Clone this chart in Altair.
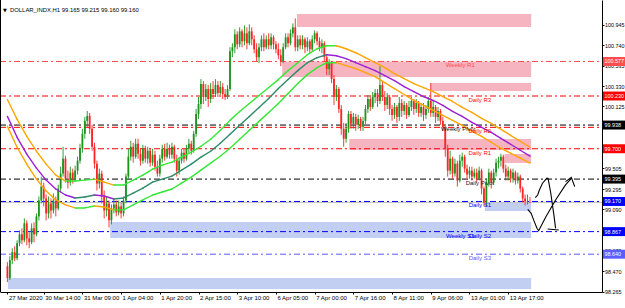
import altair as alt
import pandas as pd

# ---------------- data ----------------
opens = [98.52, 98.40, 98.58, 98.66, 98.60, 98.75, 98.84, 98.78, 98.95, 98.80,
         98.76, 98.90, 98.84, 99.02, 99.18, 99.32, 99.20, 99.05, 99.15, 99.08,
         99.18, 99.10, 99.30, 99.45, 99.60, 99.40, 99.36, 99.46, 99.40, 99.48,
         99.58, 99.70, 99.85, 99.98, 100.03, 99.90, 99.72, 99.55, 99.35, 99.45,
         99.22, 99.08, 99.15, 98.98, 99.10, 99.14, 99.06, 99.12, 99.05, 99.18,
         99.42, 99.62, 99.72, 99.62, 99.75, 99.65, 99.58, 99.70, 99.60, 99.68,
         99.56, 99.64, 99.52, 99.45, 99.60, 99.70, 99.62, 99.70, 99.64, 99.72,
         99.60, 99.48, 99.58, 99.66, 99.60, 99.70, 99.75, 99.68, 99.85, 100.05,
         100.15, 100.35, 100.22, 100.30, 100.20, 100.30, 100.25, 100.34, 100.26, 100.32,
         100.25, 100.22, 100.30, 100.68, 100.72, 100.85, 100.75, 100.88, 100.78, 100.86,
         100.76, 100.88, 100.80, 100.70, 100.62, 100.72, 100.80, 100.72, 100.80, 100.74,
         100.82, 100.75, 100.70, 100.64, 100.58, 100.72, 100.82, 100.76, 100.86, 100.92,
         100.72, 100.80, 100.74, 100.80, 100.72, 100.78, 100.70, 100.80, 100.86, 100.78,
         100.72, 100.76, 100.62, 100.50, 100.56, 100.40, 100.22, 100.30, 100.10, 99.90,
         99.80, 99.90, 100.05, 99.95, 100.02, 99.94, 100.00, 99.92, 99.98, 100.10,
         100.20, 100.12, 100.22, 100.26, 100.18, 100.34, 100.22, 100.14, 100.22, 100.10,
         100.04, 100.12, 100.02, 100.16, 100.08, 100.14, 100.04, 100.12, 100.18, 100.10,
         100.16, 100.06, 100.12, 100.04, 100.10, 100.18, 100.06, 100.12, 100.02, 100.08,
         99.98, 99.92, 99.70, 99.48, 99.60, 99.45, 99.55, 99.38, 99.58, 99.62,
         99.50, 99.44, 99.48, 99.42, 99.46, 99.40, 99.48, 99.30, 99.16, 99.36,
         99.46, 99.36, 99.46, 99.56, 99.58, 99.62, 99.50, 99.42, 99.48, 99.40,
         99.46, 99.38, 99.42, 99.30, 99.20, 99.17, 99.165]
closes = [98.40, 98.58, 98.66, 98.60, 98.75, 98.84, 98.78, 98.95, 98.80, 98.76,
          98.90, 98.84, 99.02, 99.18, 99.32, 99.20, 99.05, 99.15, 99.08, 99.18,
          99.10, 99.30, 99.45, 99.60, 99.40, 99.36, 99.46, 99.40, 99.48, 99.58,
          99.70, 99.85, 99.98, 100.03, 99.90, 99.72, 99.55, 99.35, 99.45, 99.22,
          99.08, 99.15, 98.98, 99.10, 99.14, 99.06, 99.12, 99.05, 99.18, 99.42,
          99.62, 99.72, 99.62, 99.75, 99.65, 99.58, 99.70, 99.60, 99.68, 99.56,
          99.64, 99.52, 99.45, 99.60, 99.70, 99.62, 99.70, 99.64, 99.72, 99.60,
          99.48, 99.58, 99.66, 99.60, 99.70, 99.75, 99.68, 99.85, 100.05, 100.15,
          100.35, 100.22, 100.30, 100.20, 100.30, 100.25, 100.34, 100.26, 100.32, 100.25,
          100.22, 100.30, 100.68, 100.72, 100.85, 100.75, 100.88, 100.78, 100.86, 100.76,
          100.88, 100.80, 100.70, 100.62, 100.72, 100.80, 100.72, 100.80, 100.74, 100.82,
          100.75, 100.70, 100.64, 100.58, 100.72, 100.82, 100.76, 100.86, 100.92, 100.72,
          100.80, 100.74, 100.80, 100.72, 100.78, 100.70, 100.80, 100.86, 100.78, 100.72,
          100.76, 100.62, 100.50, 100.56, 100.40, 100.22, 100.30, 100.10, 99.90, 99.80,
          99.90, 100.05, 99.95, 100.02, 99.94, 100.00, 99.92, 99.98, 100.10, 100.20,
          100.12, 100.22, 100.26, 100.18, 100.34, 100.22, 100.14, 100.22, 100.10, 100.04,
          100.12, 100.02, 100.16, 100.08, 100.14, 100.04, 100.12, 100.18, 100.10, 100.16,
          100.06, 100.12, 100.04, 100.10, 100.18, 100.06, 100.12, 100.02, 100.08, 99.98,
          99.92, 99.70, 99.48, 99.60, 99.45, 99.55, 99.38, 99.58, 99.62, 99.50,
          99.44, 99.48, 99.42, 99.46, 99.40, 99.48, 99.30, 99.16, 99.36, 99.46,
          99.36, 99.46, 99.56, 99.58, 99.62, 99.50, 99.42, 99.48, 99.40, 99.46,
          99.38, 99.42, 99.30, 99.20, 99.17, 99.165, 99.16]
highs = [98.56, 98.62, 98.70, 98.72, 98.78, 98.88, 98.90, 99.00, 98.98, 98.86,
         98.95, 98.96, 99.05, 99.22, 99.42, 99.36, 99.24, 99.22, 99.20, 99.25,
         99.22, 99.34, 99.52, 99.72, 99.63, 99.48, 99.52, 99.50, 99.53, 99.62,
         99.75, 99.90, 100.02, 100.08, 100.06, 99.94, 99.76, 99.58, 99.50, 99.48,
         99.28, 99.22, 99.18, 99.14, 99.20, 99.18, 99.18, 99.16, 99.22, 99.45,
         99.70, 99.78, 99.76, 99.80, 99.80, 99.70, 99.74, 99.73, 99.72, 99.70,
         99.70, 99.68, 99.58, 99.64, 99.74, 99.75, 99.76, 99.74, 99.76, 99.74,
         99.64, 99.62, 99.70, 99.70, 99.74, 99.80, 99.78, 99.88, 100.10, 100.22,
         100.40, 100.38, 100.35, 100.34, 100.36, 100.38, 100.40, 100.38, 100.38, 100.36,
         100.30, 100.34, 100.72, 100.76, 100.90, 100.88, 100.92, 100.90, 100.94, 100.92,
         100.95, 100.92, 100.84, 100.76, 100.76, 100.84, 100.86, 100.84, 100.86, 100.86,
         100.84, 100.78, 100.76, 100.70, 100.76, 100.86, 100.86, 100.90, 100.96, 101.01,
         100.84, 100.84, 100.84, 100.82, 100.82, 100.80, 100.84, 100.89, 100.88, 100.82,
         100.80, 100.78, 100.64, 100.60, 100.58, 100.44, 100.34, 100.32, 100.14, 99.96,
         99.96, 100.08, 100.08, 100.06, 100.05, 100.04, 100.02, 100.02, 100.14, 100.24,
         100.24, 100.27, 100.30, 100.30, 100.53, 100.38, 100.28, 100.26, 100.24, 100.14,
         100.16, 100.14, 100.22, 100.20, 100.18, 100.16, 100.18, 100.22, 100.20, 100.20,
         100.18, 100.16, 100.16, 100.14, 100.22, 100.36, 100.18, 100.14, 100.12, 100.10,
         100.02, 99.95, 99.74, 99.68, 99.62, 99.60, 99.58, 99.64, 99.66, 99.64,
         99.54, 99.52, 99.52, 99.50, 99.50, 99.52, 99.50, 99.32, 99.40, 99.50,
         99.48, 99.50, 99.60, 99.62, 99.65, 99.64, 99.54, 99.52, 99.50, 99.50,
         99.48, 99.46, 99.44, 99.32, 99.24, 99.24, 99.215]
lows = [98.36, 98.38, 98.54, 98.57, 98.58, 98.72, 98.74, 98.76, 98.73, 98.70,
        98.74, 98.76, 98.82, 98.98, 99.15, 99.12, 98.98, 99.00, 99.00, 99.05,
        99.02, 99.08, 99.26, 99.42, 99.36, 99.30, 99.33, 99.35, 99.37, 99.44,
        99.55, 99.66, 99.80, 99.92, 99.85, 99.68, 99.50, 99.28, 99.30, 99.15,
        99.00, 99.02, 98.91, 98.94, 99.05, 99.02, 99.03, 99.00, 99.02, 99.15,
        99.40, 99.58, 99.56, 99.60, 99.60, 99.53, 99.55, 99.56, 99.55, 99.52,
        99.53, 99.48, 99.42, 99.42, 99.56, 99.58, 99.60, 99.60, 99.60, 99.56,
        99.42, 99.44, 99.55, 99.56, 99.58, 99.66, 99.64, 99.66, 99.82, 100.00,
        100.10, 100.15, 100.18, 100.12, 100.16, 100.20, 100.22, 100.22, 100.24, 100.20,
        100.19, 100.20, 100.28, 100.62, 100.66, 100.70, 100.72, 100.72, 100.74, 100.70,
        100.74, 100.74, 100.66, 100.58, 100.56, 100.68, 100.68, 100.70, 100.70, 100.70,
        100.70, 100.66, 100.60, 100.53, 100.56, 100.70, 100.72, 100.74, 100.82, 100.68,
        100.68, 100.70, 100.70, 100.66, 100.68, 100.66, 100.68, 100.76, 100.74, 100.68,
        100.66, 100.58, 100.44, 100.44, 100.36, 100.14, 100.18, 100.06, 99.84, 99.72,
        99.76, 99.86, 99.90, 99.90, 99.88, 99.90, 99.88, 99.88, 99.95, 100.06,
        100.08, 100.10, 100.16, 100.12, 100.15, 100.18, 100.08, 100.10, 100.04, 99.98,
        100.00, 99.96, 99.98, 100.02, 100.04, 100.00, 100.02, 100.08, 100.04, 100.06,
        100.02, 100.02, 99.98, 100.00, 100.06, 100.02, 100.02, 99.96, 99.98, 99.94,
        99.88, 99.62, 99.42, 99.44, 99.40, 99.42, 99.32, 99.36, 99.52, 99.46,
        99.40, 99.40, 99.38, 99.40, 99.36, 99.38, 99.24, 99.12, 99.12, 99.32,
        99.30, 99.34, 99.42, 99.50, 99.52, 99.46, 99.38, 99.38, 99.36, 99.36,
        99.34, 99.35, 99.26, 99.16, 99.13, 99.14, 99.16]

# moving average (middle) and its upper / lower bands, sampled every 4 bars
ma_idx = [0, 4, 8, 12, 16, 20, 24, 28, 32, 36, 40, 44, 48, 52, 56, 60, 64, 68, 72, 76,
          80, 84, 88, 92, 96, 100, 104, 108, 112, 116, 120, 124, 128, 132, 136, 140,
          144, 148, 152, 156, 160, 164, 168, 172, 176, 180, 184, 188, 192, 196, 200,
          204, 208, 212, 216]
ma_mid = [100.025, 99.815, 99.645, 99.505, 99.385, 99.295, 99.235, 99.205, 99.215, 99.235,
          99.225, 99.195, 99.205, 99.255, 99.305, 99.365, 99.395, 99.425, 99.485, 99.545,
          99.615, 99.675, 99.755, 99.845, 99.935, 100.025, 100.115, 100.205, 100.305, 100.395,
          100.485, 100.565, 100.615, 100.645, 100.635, 100.605, 100.565, 100.525, 100.485,
          100.435, 100.385, 100.325, 100.275, 100.225, 100.185, 100.135, 100.075, 100.025,
          99.965, 99.915, 99.865, 99.805, 99.745, 99.685, 99.625]
ma_up = [100.195, 99.995, 99.825, 99.675, 99.545, 99.435, 99.375, 99.375, 99.385, 99.395,
         99.365, 99.335, 99.335, 99.385, 99.435, 99.495, 99.535, 99.565, 99.615, 99.665,
         99.725, 99.795, 99.885, 99.985, 100.075, 100.155, 100.235, 100.315, 100.395, 100.485,
         100.565, 100.645, 100.705, 100.735, 100.735, 100.705, 100.665, 100.615, 100.565,
         100.515, 100.455, 100.405, 100.355, 100.315, 100.275, 100.225, 100.175, 100.115,
         100.065, 100.005, 99.955, 99.895, 99.835, 99.775, 99.715]
ma_lo = [99.925, 99.715, 99.545, 99.395, 99.275, 99.185, 99.135, 99.105, 99.105, 99.125,
         99.115, 99.085, 99.085, 99.135, 99.185, 99.235, 99.265, 99.295, 99.355, 99.415,
         99.485, 99.555, 99.625, 99.705, 99.795, 99.885, 99.975, 100.065, 100.155, 100.255,
         100.355, 100.445, 100.515, 100.565, 100.565, 100.535, 100.505, 100.465, 100.425,
         100.365, 100.305, 100.245, 100.185, 100.135, 100.085, 100.035, 99.985, 99.935,
         99.875, 99.825, 99.765, 99.705, 99.655, 99.605, 99.555]

# support / resistance zones: start bar, end bar, price top, price bottom, kind
zone_x0 = [119.7, 113.6, 175.0, 141.3, 205.5, 42.5, 197.4, 0.2]
zone_x1 = [216.5, 216.5, 216.5, 216.5, 216.5, 216.5, 216.5, 216.5]
zone_p0 = [101.054, 100.577, 100.361, 99.798, 99.647, 98.964, 99.155, 98.401]
zone_p1 = [100.924, 100.421, 100.280, 99.687, 99.557, 98.803, 99.074, 98.290]
zone_kind = ["res", "res", "res", "res", "res", "sup", "sup", "sup"]

# pivot level lines
lvl_price = [100.577, 100.230, 99.938, 99.915, 99.700, 99.395, 99.170, 98.867, 98.640]
lvl_color = ["#ff4d4d", "#ff0000", "#000000", "#ff0000", "#ff0000", "#000000",
             "#0000ff", "#0000ff", "#5c5cff"]
lvl_box = [True, True, True, False, True, True, True, True, True]

# level captions
lab_text = ["Weekly R1", "Daily R3", "Weekly Pivot", "Daily R2", "Daily R1",
            "Daily Pivot", "Daily S1", "Weekly S1", "Daily S2", "Daily S3"]
lab_price = [100.577, 100.230, 99.938, 99.915, 99.700, 99.395, 99.170, 98.867, 98.867, 98.640]
lab_x = [187.2, 195.3, 186.4, 195.3, 195.3, 195.3, 195.3, 187.2, 195.3, 195.3]
lab_color = ["#ff4d4d", "#ff0000", "#202020", "#ff0000", "#ff0000", "#202020",
             "#0000ff", "#0000ff", "#0000ff", "#5c5cff"]

# hand-drawn arrows (bar index, price)
arr_id = ["a"] * 9 + ["ah"] * 2 + ["b"] * 9 + ["bh"] * 3
arr_x = [218.2, 219.2, 219.9, 221.2, 222.9, 223.5, 224.6, 226.0, 226.6,
         223.3, 227.9,
         215.1, 216.5, 217.8, 218.9, 219.6, 222.6, 226.6, 230.7, 233.1,
         230.7, 233.1, 234.5]
arr_p = [99.208, 99.235, 99.285, 99.353, 99.403, 99.403, 99.255, 99.017, 98.900,
         98.893, 98.883,
         99.091, 99.051, 98.967, 98.900, 98.876, 99.017, 99.185, 99.336, 99.403,
         99.369, 99.413, 99.319]

bid = 99.160
title_text = "DOLLAR_INDX,H1  99.165 99.215 99.160 99.160"

x_tick_idx = [0, 15, 31, 47, 63, 79, 95, 111, 127, 143, 159, 175, 191, 207]
x_tick_lab = ["27 Mar 2020", "30 Mar 14:00", "31 Mar 09:00", "1 Apr 04:00", "1 Apr 20:00",
              "2 Apr 15:00", "3 Apr 10:00", "6 Apr 05:00", "7 Apr 00:00", "7 Apr 16:00",
              "8 Apr 11:00", "9 Apr 06:00", "13 Apr 01:00", "13 Apr 17:00"]
y_ticks = [100.945, 100.740, 100.535, 100.330, 100.125, 99.920, 99.710, 99.505,
           99.295, 99.090, 98.880, 98.675, 98.470, 98.265]

# ---------------- layout / style ----------------
W, H = 602, 292
FONT = "Liberation Sans"
BULL, BEAR = "#1c931c", "#ff2424"
xs = alt.Scale(domain=[-1, 243.72], nice=False, zero=False)
ys = alt.Scale(domain=[98.26, 101.195], nice=False, zero=False)

candles = pd.DataFrame({"i": list(range(len(closes))), "o": opens, "h": highs,
                        "l": lows, "c": closes})
candles["col"] = [BULL if c >= o else BEAR for o, c in zip(opens, closes)]

seg_rows = []
for vals, upc, dnc in [(ma_up, "#33e833", "#ffa500"), (ma_lo, "#33e833", "#ffa500"),
                       (ma_mid, "#2e8b68", "#9b1fd6")]:
    for k in range(len(ma_idx) - 1):
        a, b = vals[k], vals[k + 1]
        seg_rows.append(dict(x=ma_idx[k], x2=ma_idx[k + 1], y=a, y2=b,
                             col=upc if b >= a else dnc))
segs = pd.DataFrame(seg_rows)

zones = pd.DataFrame({"x0": zone_x0, "x1": zone_x1, "p0": zone_p0, "p1": zone_p1,
                      "col": ["#f6b4c1" if k == "res" else "#c3cef3" for k in zone_kind]})
levels = pd.DataFrame({"p": lvl_price, "col": lvl_color})
boxes = pd.DataFrame({"p": [p for p, b in zip(lvl_price, lvl_box) if b],
                      "col": [c for c, b in zip(lvl_color, lvl_box) if b]})
boxes["lo"] = boxes["p"] - 0.045
boxes["hi"] = boxes["p"] + 0.045
boxes["txt"] = [f"{p:.3f}" for p in boxes["p"]]
labels = pd.DataFrame({"t": lab_text, "p": lab_price, "x": lab_x, "col": lab_color})
arrows = pd.DataFrame({"g": arr_id, "x": arr_x, "p": arr_p,
                       "k": list(range(len(arr_x)))})

label_expr = ("[" + ",".join(f"'{s}'" for s in x_tick_lab) + "][indexof(["
              + ",".join(str(v) for v in x_tick_idx) + "], datum.value)]")

x_axis = alt.Axis(
    values=x_tick_idx, labelExpr=label_expr, labelAlign="left", labelBaseline="top",
    labelOffset=1, labelPadding=0, tickSize=2, labelFontSize=6, labelFont=FONT,
    labelColor="#000000", domainColor="#000000", tickColor="#000000",
    labelOverlap=False, labelFlush=False, grid=False, title=None)
y_axis = alt.Axis(
    orient="right", values=y_ticks, format=".3f", tickSize=2, labelPadding=0.5,
    labelFontSize=5.4, labelFont=FONT, labelColor="#000000", domainColor="#000000",
    tickColor="#000000", labelOverlap=False, labelFlush=False, grid=False, title=None)

# every layer carries the same axis definition so the merged axis is kept
X = lambda f: alt.X(f, type="quantitative", scale=xs, axis=x_axis)
Y = lambda f: alt.Y(f, type="quantitative", scale=ys, axis=y_axis)
NOCOL = lambda f: alt.Color(f, type="nominal", scale=None, legend=None)

zone_layer = alt.Chart(zones).mark_rect().encode(
    x=X("x0"), x2="x1", y=Y("p0"), y2="p1", color=NOCOL("col"))

bid_layer = alt.Chart(pd.DataFrame({"p": [bid]})).mark_rule(
    color="#c0c0c0", strokeWidth=1).encode(
    y=Y("p"), x=alt.value(0), x2=alt.value(W))

level_layer = alt.Chart(levels).mark_rule(strokeWidth=1, strokeDash=[6, 3, 2, 3]).encode(
    y=Y("p"), x=alt.value(0), x2=alt.value(W), color=NOCOL("col"))

wick_layer = alt.Chart(candles).mark_rule(strokeWidth=0.9).encode(
    x=X("i"), y=Y("l"), y2="h", color=NOCOL("col"))

body_layer = alt.Chart(candles).mark_bar(size=1.8).encode(
    x=X("i"), y=Y("o"), y2="c", color=NOCOL("col"))

ma_layer = alt.Chart(segs).mark_rule(strokeWidth=1.4, strokeCap="round").encode(
    x=X("x"), x2="x2", y=Y("y"), y2="y2", color=NOCOL("col"))

label_layer = alt.Chart(labels).mark_text(
    font=FONT, fontSize=6, baseline="top", align="center", dy=1).encode(
    x=X("x"), y=Y("p"), text="t:N", color=NOCOL("col"))

arrow_layer = alt.Chart(arrows).mark_line(color="#000000", strokeWidth=1.1).encode(
    x=X("x"), y=Y("p"), detail="g:N", order="k:Q")

border_layer = alt.Chart(pd.DataFrame({"v": [0]})).mark_rule(color="#000000").encode(
    x=alt.value(0.5), y=alt.value(0), y2=alt.value(H))

box_layer = alt.Chart(boxes).mark_rect().encode(
    x=alt.value(W + 1), x2=alt.value(W + 24), y=Y("lo"), y2="hi", color=NOCOL("col"))

box_text = alt.Chart(boxes).mark_text(
    font=FONT, fontSize=5.4, color="#ffffff", align="left", baseline="middle").encode(
    x=alt.value(W + 2.5), y=Y("p"), text="txt:N")

title_layer = alt.Chart(pd.DataFrame({"t": [title_text]})).mark_text(
    font=FONT, fontSize=5.9, align="left", baseline="middle", color="#000000").encode(
    x=alt.value(10), y=alt.value(10), text="t:N")

tri_layer = alt.Chart(pd.DataFrame({"t": ["▼"]})).mark_text(
    font="DejaVu Sans", fontSize=5, align="left", baseline="middle", color="#000000").encode(
    x=alt.value(3), y=alt.value(10), text="t:N")

chart = alt.layer(
    zone_layer, bid_layer, level_layer, wick_layer, body_layer, ma_layer,
    label_layer, arrow_layer, border_layer, box_layer, box_text, title_layer, tri_layer
).properties(
    width=W, height=H, autosize=alt.AutoSizeParams(type="none"),
    padding={"left": 0, "top": 0, "right": 23, "bottom": 16},
    background="#ffffff"
).configure_view(stroke=None)

chart.save("out.html", embed_options={"renderer": "svg", "actions": False})
